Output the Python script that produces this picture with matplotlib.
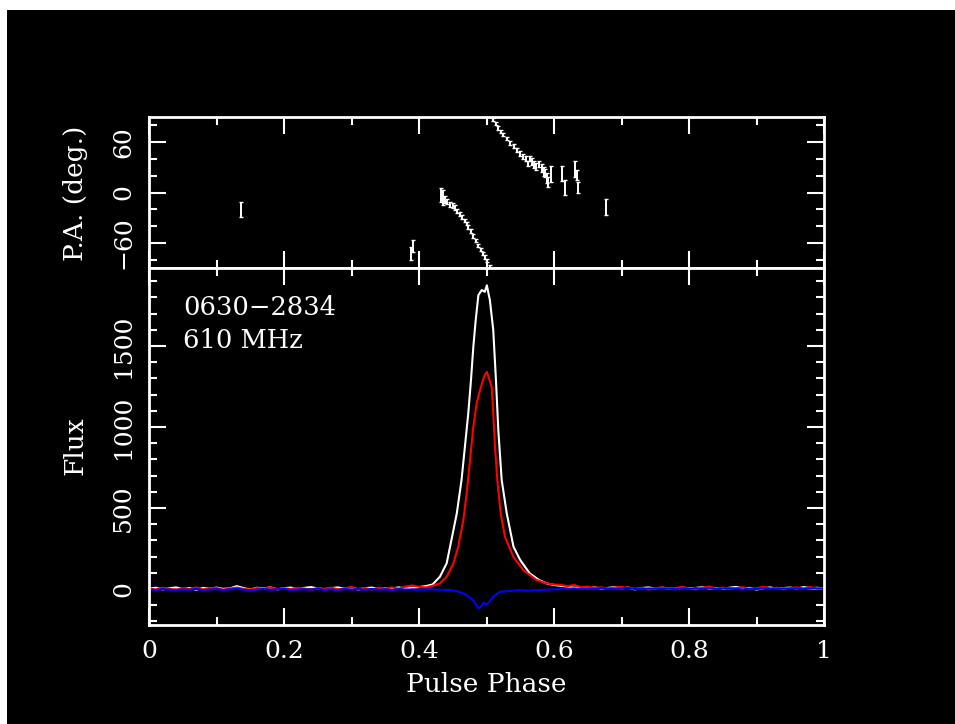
import matplotlib
matplotlib.use("Agg")
import matplotlib.pyplot as plt
from matplotlib.patches import Rectangle
from matplotlib.ticker import MultipleLocator

# off-pulse phase grid shared by the three profiles
OFF_LEFT = [0.00, 0.01, 0.02, 0.03, 0.04, 0.05, 0.06, 0.07, 0.08, 0.09,
            0.10, 0.11, 0.12, 0.13, 0.14, 0.15, 0.16, 0.17, 0.18, 0.19,
            0.20, 0.21, 0.22, 0.23, 0.24, 0.25, 0.26, 0.27, 0.28, 0.29,
            0.30, 0.31, 0.32, 0.33, 0.34, 0.35, 0.36, 0.37, 0.38, 0.39, 0.40]
OFF_RIGHT = [0.62, 0.63, 0.64, 0.65, 0.66, 0.67, 0.68, 0.69, 0.70, 0.71,
             0.72, 0.73, 0.74, 0.75, 0.76, 0.77, 0.78, 0.79, 0.80, 0.81,
             0.82, 0.83, 0.84, 0.85, 0.86, 0.87, 0.88, 0.89, 0.90, 0.91,
             0.92, 0.93, 0.94, 0.95, 0.96, 0.97, 0.98, 0.99, 1.00]

# total intensity (white)
I_LEFT = [3, 8, -2, 5, 10, 0, 6, -4, 7, 2, 9, 1, 4, 18, 6, -3, 8, 3, 11, -2,
          5, 9, 0, 7, 12, 3, -1, 6, 10, 2, 8, -3, 5, 9, 1, 6, 4, 10, 3, 8, 12]
I_PEAK_PHASE = [0.41, 0.42, 0.431, 0.441, 0.448, 0.456, 0.463, 0.468, 0.473, 0.477,
                0.4805, 0.484, 0.488, 0.493, 0.4975, 0.5005, 0.505, 0.510, 0.514, 0.5175,
                0.5225, 0.530, 0.540, 0.550, 0.564, 0.578, 0.589, 0.600, 0.610]
I_PEAK = [18, 28, 76, 159, 302, 467, 673, 878, 1085, 1290,
          1496, 1660, 1815, 1846, 1835, 1875, 1784, 1599, 1290, 981,
          673, 467, 261, 179, 97, 55, 35, 25, 20]
I_RIGHT = [15, 8, 12, 5, 10, 3, 7, 12, 4, 9, -2, 6, 10, 3, 8, 5, -1, 9, 4, 7,
           11, 2, 6, 0, 8, 13, 4, 7, -3, 5, 10, 2, 6, 9, 3, 12, 5, 8, 2]

# linear polarisation (red)
L_LEFT = [5, -3, 8, 2, -5, 6, 0, 10, -2, 4, 7, -4, 3, 9, 1, -3, 6, 2, 11, -1,
          5, 0, 8, 3, -4, 7, 2, 9, -2, 5, 12, 1, 6, -3, 8, 4, 10, 2, 15, 22, 14]
L_PEAK_PHASE = [0.41, 0.42, 0.431, 0.441, 0.451, 0.458, 0.4657, 0.4706, 0.4756, 0.4805,
                0.4854, 0.4904, 0.4963, 0.5005, 0.5077, 0.510, 0.5126, 0.516, 0.521, 0.5274,
                0.5397, 0.5545, 0.574, 0.589, 0.600, 0.610]
L_PEAK = [10, 20, 35, 76, 159, 261, 426, 591, 796, 1002,
          1146, 1228, 1311, 1341, 1249, 1085, 878, 673, 467, 323,
          199, 117, 56, 35, 28, 25]
L_RIGHT = [18, 25, 12, 15, 8, 10, 4, 9, 14, 6, 2, 8, -3, 5, 10, 0, 7, 12, 3, -2,
           8, 15, 4, 9, 1, 6, 11, -1, 5, 14, 3, 8, -2, 6, 10, 4, 12, 2, 5]

# circular polarisation (blue)
V_LEFT = [-3, -6, 0, -4, -8, -2, -5, 1, -7, -3, -1, -6, -2, 2, -4, -8, -3, 0, -5, -2,
          1, -6, -3, -1, -4, 2, -5, -2, -7, 0, -3, -1, -5, 1, -4, -2, -6, 0, -3, -2, -5]
V_PEAK_PHASE = [0.41, 0.42, 0.43, 0.44, 0.446, 0.455, 0.4657, 0.473, 0.4805, 0.485,
                0.489, 0.4925, 0.4955, 0.500, 0.505, 0.510, 0.520, 0.530, 0.545, 0.560,
                0.580, 0.600, 0.610]
V_PEAK = [-3, -2, -4, -5, -6, -12, -27, -45, -70, -100,
          -119, -105, -84, -95, -75, -47, -16, -14, -8, -10,
          -5, -2, 0]
V_RIGHT = [2, 4, 0, 3, -1, 5, 2, -2, 3, 6, 1, -1, 4, 2, 0, 5, -2, 3, 1, 6,
           0, 4, -1, 2, 5, 1, -3, 3, 0, 4, 2, -1, 5, 1, 3, 0, 2, 4, 1]

# position angle sweep
PA_PHASE = [0.137, 0.3886, 0.391, 0.432, 0.4355, 0.4385, 0.442, 0.446, 0.450, 0.4533,
            0.457, 0.4607, 0.464, 0.468, 0.4705, 0.473, 0.4765, 0.480, 0.484, 0.488,
            0.4915, 0.4953, 0.498, 0.501, 0.505,
            0.510, 0.514, 0.5175, 0.521, 0.525, 0.530, 0.535, 0.540, 0.5447, 0.549,
            0.5545, 0.558, 0.562, 0.5645, 0.567, 0.570, 0.574, 0.578, 0.582, 0.585,
            0.587, 0.590, 0.5916, 0.595, 0.612, 0.617, 0.631, 0.6345, 0.6355, 0.677]
PA_DEG = [-20.5, -73, -64, -3, -6, -8, -11, -14, -16, -18,
          -22, -26, -29, -33, -37, -41, -46, -52, -57, -63,
          -68, -73, -77, -81, -88,
          87, 82, 77, 73, 69, 64, 59, 55, 51, 47,
          43, 40, 35, 40, 37, 33, 31, 34, 29, 25,
          23, 17, 13, 22, 22.6, 6, 28, 21, 6, -17]
PA_ERR = [9, 7.5, 7.5, 8, 9, 4, 3, 3, 3, 3,
          2.5, 2.5, 2, 2, 2, 2, 2, 2, 2, 2,
          2, 2, 2, 2, 2,
          2, 2, 2, 2, 2, 2, 2, 2.5, 2.5, 3,
          3, 3, 3, 3, 4, 4, 4, 4, 5, 5,
          5, 6, 6, 9, 9, 9, 10, 6, 7, 9.5]

plt.rcParams["font.family"] = "DejaVu Serif"
plt.rcParams["font.size"] = 18

fig = plt.figure(figsize=(9.55, 7.24), dpi=100, facecolor="white")
fig.patches.append(Rectangle((7 / 955, 0), 1, 1 - 10 / 724, transform=fig.transFigure,
                             facecolor="black", edgecolor="none", zorder=-10))

ax_pa = fig.add_axes([149 / 955, 1 - 268 / 724, 675 / 955, 151 / 724])
ax_fl = fig.add_axes([149 / 955, 1 - 625 / 724, 675 / 955, 357 / 724])

for ax in (ax_pa, ax_fl):
    ax.set_facecolor("black")
    for sp in ax.spines.values():
        sp.set_color("white")
        sp.set_linewidth(2)
    ax.tick_params(which="both", direction="in", colors="white", top=True, right=True,
                   labelcolor="white")
    ax.tick_params(which="major", length=12, width=1.5)
    ax.tick_params(which="minor", length=6, width=1.5)
    ax.tick_params(axis="y", labelrotation=90, pad=10)
    ax.tick_params(axis="x", pad=11)
    ax.set_xlim(0, 1)
    ax.xaxis.set_major_locator(MultipleLocator(0.2))
    ax.xaxis.set_minor_locator(MultipleLocator(0.1))

# position angle panel
ax_pa.errorbar(PA_PHASE, PA_DEG, yerr=PA_ERR, fmt="none", ecolor="white",
               elinewidth=1.4, capsize=1.5, capthick=1.0)
ax_pa.set_ylim(-90, 90)
ax_pa.yaxis.set_minor_locator(MultipleLocator(20))
ax_pa.tick_params(labelbottom=False)
ax_pa.set_yticks([-60, 0, 60])
ax_pa.set_yticklabels(["\u221260", "0", "60"], va="center")

# flux panel
ax_fl.plot(OFF_LEFT + I_PEAK_PHASE + OFF_RIGHT, I_LEFT + I_PEAK + I_RIGHT,
           color="white", lw=1.5)
ax_fl.plot(OFF_LEFT + L_PEAK_PHASE + OFF_RIGHT, L_LEFT + L_PEAK + L_RIGHT,
           color="#ff0000", lw=1.5)
ax_fl.plot(OFF_LEFT + V_PEAK_PHASE + OFF_RIGHT, V_LEFT + V_PEAK + V_RIGHT,
           color="#0000ff", lw=1.5)
ax_fl.set_ylim(-222, 1982)
ax_fl.yaxis.set_minor_locator(MultipleLocator(100))
ax_fl.set_yticks([0, 500, 1000, 1500])
ax_fl.set_yticklabels(["0", "500", "1000", "1500"], va="center")
ax_fl.set_xticks([0, 0.2, 0.4, 0.6, 0.8, 1.0])
ax_fl.set_xticklabels(["0", "0.2", "0.4", "0.6", "0.8", "1"])

ax_fl.text(0.05, 0.888, "0630\u22122834", transform=ax_fl.transAxes, color="white",
           ha="left", va="center", fontsize=18.5)
ax_fl.text(0.05, 0.798, "610 MHz", transform=ax_fl.transAxes, color="white",
           ha="left", va="center", fontsize=18.5)

fig.text(75 / 955, 1 - 446 / 724, "Flux", rotation=90, color="white",
         ha="center", va="center", fontsize=19)
fig.text(75 / 955, 1 - 193 / 724, "P.A. (deg.)", rotation=90, color="white",
         ha="center", va="center", fontsize=19)
fig.text(486 / 955, 1 - 685 / 724, "Pulse Phase", color="white",
         ha="center", va="center", fontsize=19)

fig.savefig("out.png", dpi=100, facecolor=fig.get_facecolor())
